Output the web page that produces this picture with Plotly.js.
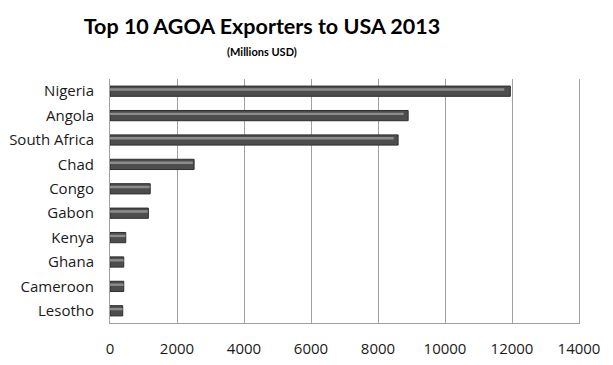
<!DOCTYPE html>
<html>
<head>
<meta charset="utf-8">
<script src="https://cdn.plot.ly/plotly-3.0.1.min.js"></script>
<style>html,body{margin:0;padding:0;background:#fff;}#chart{width:613px;height:365px;}</style>
</head>
<body>
<div id="chart"></div>
<script>
const countries = ["Nigeria", "Angola", "South Africa", "Chad", "Congo", "Gabon", "Kenya", "Ghana", "Cameroon", "Lesotho"];
const exportsMillionUSD = [11950, 8900, 8600, 2510, 1200, 1145, 470, 410, 410, 380];
const xTickValues = [0, 2000, 4000, 6000, 8000, 10000, 12000, 14000];

const base = {
  type: "bar",
  orientation: "h",
  x: exportsMillionUSD,
  y: countries,
  width: 0.42,
  marker: {color: "#4d4d4d", line: {color: "#2e2e2e", width: 1}},
  hoverinfo: "x+y"
};
const highlight = {
  type: "bar",
  orientation: "h",
  x: exportsMillionUSD.map(v => v * 0.985),
  y: countries,
  width: 0.1,
  offset: -0.12,
  marker: {color: "#8c8c8c", line: {width: 0}},
  hoverinfo: "skip"
};

const layout = {
  width: 613,
  height: 365,
  margin: {l: 110, r: 34, t: 79, b: 42},
  paper_bgcolor: "#ffffff",
  plot_bgcolor: "#ffffff",
  barmode: "overlay",
  showlegend: false,
  font: {family: "Open Sans, sans-serif", color: "#1a1a1a"},
  title: {
    text: "<b>Top 10 AGOA Exporters to USA 2013</b>",
    font: {family: "Lato, sans-serif", size: 21.5, color: "#000"},
    x: 262 / 613, xanchor: "center", xref: "container",
    y: 1 - 26 / 365, yanchor: "middle", yref: "container"
  },
  annotations: [{
    text: "<b>(Millions USD)</b>",
    xref: "paper", yref: "paper",
    x: (262 - 110) / (613 - 110 - 34), y: 1 + (79 - 51) / 244,
    xanchor: "center", yanchor: "middle",
    showarrow: false,
    font: {family: "Lato, sans-serif", size: 11, color: "#000"}
  }],
  xaxis: {
    range: [0, 14000],
    tickvals: xTickValues,
    ticktext: xTickValues.map(String),
    showgrid: true,
    gridcolor: "#a0a0a0",
    gridwidth: 1,
    zeroline: false,
    showline: true,
    linecolor: "#a0a0a0",
    linewidth: 1,
    ticks: "",
    ticklabelstandoff: 12,
    tickfont: {size: 15, color: "#1a1a1a"},
    fixedrange: true
  },
  yaxis: {
    type: "category",
    categoryorder: "array",
    categoryarray: countries,
    autorange: "reversed",
    showgrid: false,
    showline: true,
    mirror: true,
    linecolor: "#a0a0a0",
    linewidth: 1,
    ticks: "",
    ticklabelstandoff: 12,
    tickfont: {size: 15, color: "#1a1a1a"},
    fixedrange: true
  }
};

Plotly.newPlot("chart", [base, highlight], layout, {displayModeBar: false, staticPlot: true});
</script>
</body>
</html>
